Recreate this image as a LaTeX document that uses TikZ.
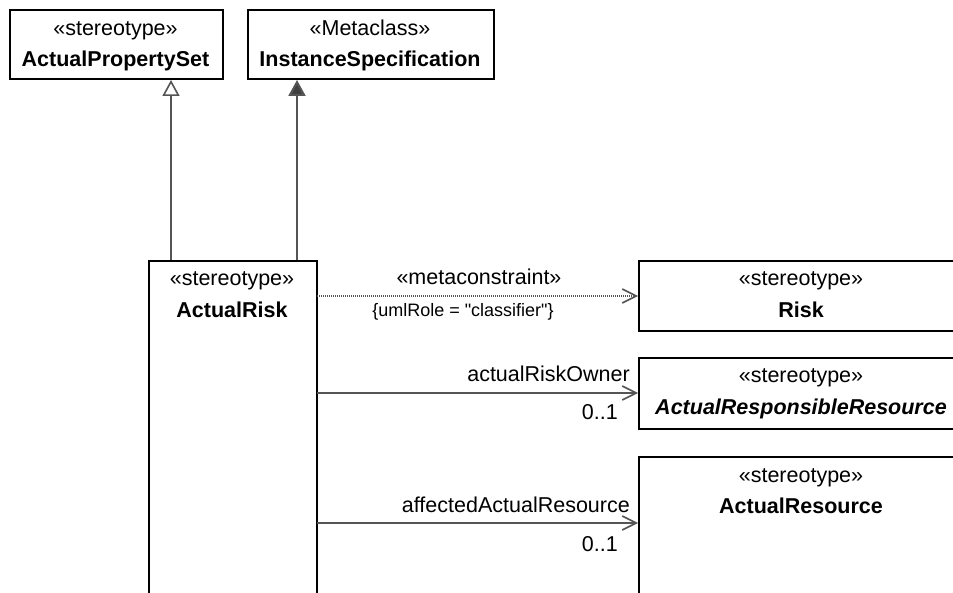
\documentclass[tikz,border=0pt]{standalone}
\usepackage{fontspec}
\setmainfont{Liberation Sans}
\usetikzlibrary{arrows.meta}
\definecolor{conn}{HTML}{555555}
\definecolor{headfill}{HTML}{404040}
\newcommand\straightdq{\XeTeXglyph\XeTeXcharglyph"22\relax}
\begin{document}
\begin{tikzpicture}[x=1pt,y=-1pt,
  box/.style={draw=black,line width=2pt,fill=white,rectangle,inner sep=0pt,anchor=north west},
  lbl/.style={font=\fontsize{21.5}{25}\selectfont,anchor=base,inner sep=0pt},
  bname/.style={font=\fontsize{21.5}{25}\selectfont\bfseries,anchor=base,inner sep=0pt},
  biname/.style={font=\fontsize{21.5}{25}\selectfont\bfseries\itshape,anchor=base,inner sep=0pt},
  small/.style={font=\fontsize{18}{22}\selectfont,anchor=base,inner sep=0pt},
  role/.style={font=\fontsize{21.5}{25}\selectfont,anchor=base east,inner sep=0pt},
  genopen/.style={draw=conn,line width=2pt,-{Triangle[open,length=16pt,width=17pt,line width=1.6pt]}},
  genfill/.style={draw=conn,line width=2pt,-{Triangle[length=16pt,width=17pt,fill=headfill]}},
  assoc/.style={draw=conn,line width=2pt,-{Straight Barb[length=14pt,width=14pt,line width=1.6pt]}},
  dep/.style={draw=conn,line width=1.2pt,dash pattern=on 1pt off 1pt,-{Straight Barb[length=14pt,width=14pt,line width=1.6pt]}}]
\useasboundingbox (0,0) rectangle (953,593);
\clip (0,0) rectangle (953,593);
\fill[white] (0,0) rectangle (953,593);

% boxes
\node[box,minimum width=213pt,minimum height=69pt] (aps) at (9,9) {};
\node[box,minimum width=246pt,minimum height=69pt] (is) at (247,9) {};
\node[box,minimum width=168pt,minimum height=400pt] (ar) at (148,260) {};
\node[box,minimum width=326pt,minimum height=70pt] (risk) at (638,260) {};
\node[box,minimum width=326pt,minimum height=71pt] (arr) at (638,357) {};
\node[box,minimum width=326pt,minimum height=200pt] (ares) at (638,456) {};

% texts
\node[lbl] (aps1) at (115.5,36) {«stereotype»};
\node[bname] (aps2) at (115.5,67) {ActualPropertySet};
\node[lbl] (is1) at (370,36) {«Metaclass»};
\node[bname] (is2) at (370,67) {InstanceSpecification};
\node[lbl] (ar1) at (232,286) {«stereotype»};
\node[bname] (ar2) at (232,318) {ActualRisk};
\node[lbl] (risk1) at (801,286) {«stereotype»};
\node[bname] (risk2) at (801,318) {Risk};
\node[lbl] (arr1) at (801,383) {«stereotype»};
\node[biname] (arr2) at (801,414) {ActualResponsibleResource};
\node[lbl] (ares1) at (801,482) {«stereotype»};
\node[bname] (ares2) at (801,513) {ActualResource};

% generalizations
\coordinate (g1) at (171,260);
\coordinate (g2) at (297,260);
\draw[genopen] (g1) -- (g1 |- aps.south);
\draw[genfill] (g2) -- (g2 |- is.south);

% dependency
\coordinate (d1) at (317,296);
\draw[dep] (d1) -- (d1 -| risk.west);
\node[lbl] (mc) at (479,285) {«metaconstraint»};
\node[small] (mcr) at (463,317) {\{umlRole = \straightdq classifier\straightdq\}};

% associations
\coordinate (a1) at (317,393);
\coordinate (a2) at (317,523);
\draw[assoc] (a1) -- (a1 -| arr.west);
\draw[assoc] (a2) -- (a2 -| ares.west);
\node[role] (r1) at (630,382) {actualRiskOwner};
\node[role] (m1) at (618,420) {0..1};
\node[role] (r2) at (630,512) {affectedActualResource};
\node[role] (m2) at (618,551) {0..1};
\end{tikzpicture}
\end{document}
